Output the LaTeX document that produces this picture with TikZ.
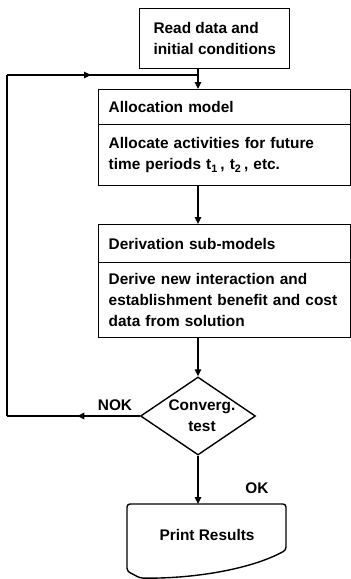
\documentclass[tikz,border=0pt]{standalone}
\usepackage{fontspec}
\setmainfont{Liberation Sans}
\usetikzlibrary{
  calc,
  positioning,
  shapes.geometric,
  arrows.meta,
  decorations.markings}

\tikzset{
  txt/.style={font=\bfseries\fontsize{15.4}{21}\selectfont},
  box/.style={rectangle,draw,line width=1.4pt,inner ysep=0pt,txt},
  splitbox/.style={box,anchor=north west,align=left,
    text width=232pt,inner xsep=10pt,minimum width=252pt},
  flow/.style={line width=1.4pt,-{Triangle[length=7pt,width=6.5pt]}},
  loop/.style={line width=1.4pt},
  midarrow/.style={loop,postaction={decorate},decoration={markings,
    mark=at position #1 with {\arrow{Triangle[length=7pt,width=6.5pt]}}}},
  midarrow/.default=0.5
}

\begin{document}
\begin{tikzpicture}[x=1pt,y=-1pt]
  \useasboundingbox (0,0) rectangle (351,579);

  % Input
  \node[box,anchor=north west,align=left,minimum width=150pt,minimum height=60pt]
    (readbox) at (139,8) {Read data and\\initial conditions};

  % Allocation model
  \node[splitbox,minimum height=35pt] (allochead) at (98,89) {Allocation model};
  \node[splitbox,minimum height=61pt] (allocbody) at (98,124)
    {Allocate activities for future\\time periods t\textsubscript{1}\,, t\textsubscript{2}\,, etc.};

  % Derivation sub-models
  \node[splitbox,minimum height=38pt] (derivhead) at (98,224) {Derivation sub-models};
  \node[splitbox,minimum height=75pt] (derivbody) at (98,262)
    {Derive new interaction and\\establishment benefit and cost\\data from solution};

  % Convergence test
  \node[diamond,draw,line width=1.4pt,txt,align=center,aspect=1.47,
    inner sep=-10pt,minimum width=115pt,minimum height=78pt]
    (convtest) at (198,416) {\hspace*{8pt}Converg.\\\hspace*{8pt}test};

  % Output
  \coordinate (printtop) at (127,504);
  \draw[loop,rounded corners=3pt]
    (127,571) -- (printtop) -- (286,504) -- (286,550)
    .. controls (250,570) and (190,579) .. (140,578) -- cycle;
  \node[txt] (printres) at (207,535) {Print Results};

  % Main flow
  \coordinate (junction) at (198,75);
  \draw[flow] (junction |- readbox.south) -- (junction |- allochead.north);
  \draw[flow] (junction |- allocbody.south) -- (junction |- derivhead.north);
  \draw[flow] (junction |- derivbody.south) -- (convtest.north);
  \draw[flow] (convtest.south) -- (convtest.south |- printtop);

  % Feedback loop
  \coordinate (loopbl) at (7,416);
  \coordinate (looptl) at (7,75);
  \draw[midarrow=0.47] (convtest.west) -- (loopbl);
  \draw[loop] (loopbl) -- (looptl);
  \draw[midarrow=0.44] (looptl) -- (junction);

  % Labels
  \node[txt] (noklabel) at (115,405) {NOK};
  \node[txt] (oklabel) at (257,488) {OK};
\end{tikzpicture}
\end{document}
